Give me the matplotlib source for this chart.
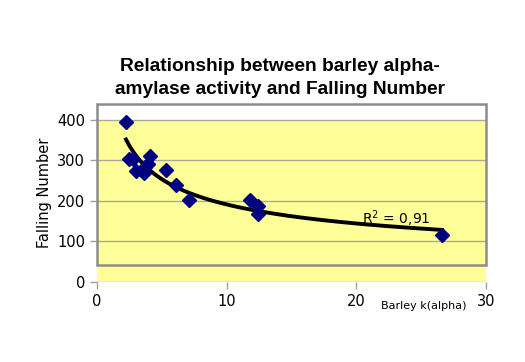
import numpy as np
import matplotlib
matplotlib.use("Agg")
import matplotlib.pyplot as plt
from matplotlib.patches import Rectangle

# values
k_alpha = [2.24, 2.5, 2.8, 3.0, 3.6, 3.7, 3.9, 4.1, 5.3, 6.1, 7.1, 11.8, 12.4, 12.4, 26.6]
falling_number = [395, 303, 303, 275, 270, 285, 292, 312, 277, 240, 202, 202, 188, 167, 116]
y_ticks = [0, 100, 200, 300, 400]
x_ticks = [0, 10, 20, 30]
r2_label = "R$^2$ = 0,91"

W, H = 525, 362
fig = plt.figure(figsize=(W / 100, H / 100), dpi=100)
ax = fig.add_axes([97 / W, 1 - 282 / H, (486 - 97) / W, (282 - 104) / H])
ax.set_xlim(0, 30)
ax.set_ylim(0, 439.5)

# yellow band and grey plot-area box
ax.axhspan(0, 400, color="#ffff99", zorder=0, lw=0)
for yv in y_ticks:
    ax.axhline(yv, color="#a8a8a0", lw=1, zorder=1)
ax.add_patch(Rectangle((0, 42), 30, 397.5, fill=False, edgecolor="#8c8c8c",
                       lw=1.8, zorder=2, clip_on=False))

# power trendline y = a * x^b
b, loga = np.polyfit(np.log(k_alpha), np.log(falling_number), 1)
xs = np.linspace(min(k_alpha), max(k_alpha), 200)
ax.plot(xs, np.exp(loga) * xs ** b, color="black", lw=2.8, zorder=3)

ax.plot(k_alpha, falling_number, ls="none", marker="D", ms=7,
        color="#000080", zorder=4)

ax.text(20.4, 157, r2_label, fontsize=10, ha="left", va="center", zorder=5)

for s in ax.spines.values():
    s.set_visible(False)
ax.set_xticks(x_ticks)
ax.set_yticks(y_ticks)
ax.tick_params(axis="both", colors="#a0a0a0", length=5, width=1,
               labelcolor="black", labelsize=10.5)
ax.tick_params(axis="x", pad=4)
ax.set_ylabel("Falling Number", fontsize=10.5, labelpad=4)

fig.text(424 / W, 1 - 306 / H, "Barley k(alpha)", fontsize=8, ha="center", va="center")
fig.text(280 / W, 1 - 78 / H,
         "Relationship between barley alpha-\namylase activity and Falling Number",
         fontsize=13.8, fontweight="bold", family="Liberation Sans",
         ha="center", va="center", linespacing=1.45)

fig.savefig("out.png", dpi=100)
